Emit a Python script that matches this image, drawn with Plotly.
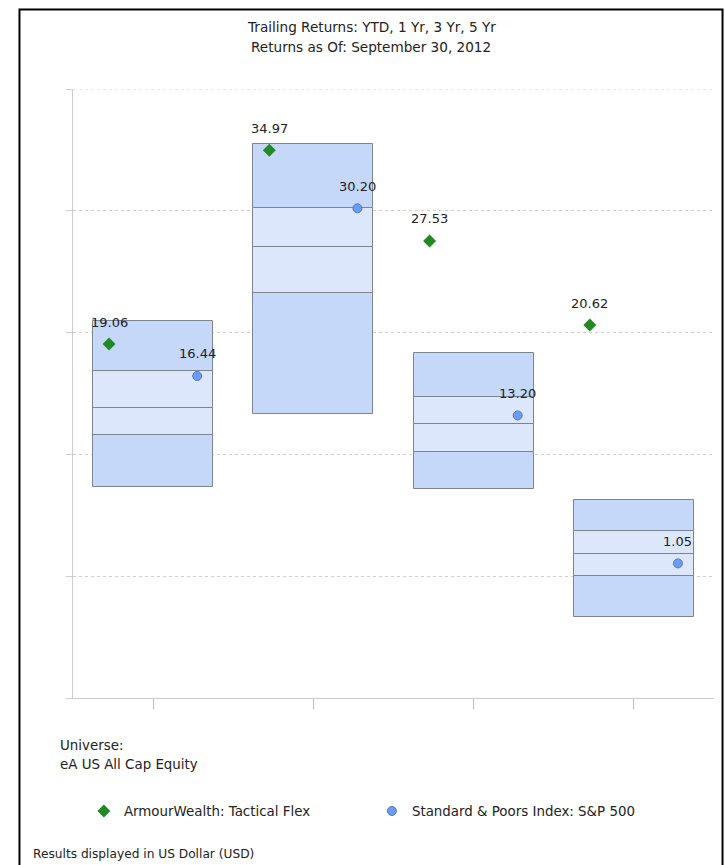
import plotly.graph_objects as go

# Trailing-return periods
categories = ["YTD", "1 Yr", "3 Yr", "5 Yr"]

# Universe percentile bands (5th, 25th, median, 75th, 95th)
p05 = [7.30, 13.28, 7.19, -3.34]
p25 = [11.61, 23.25, 10.16, 0.00]
p50 = [13.82, 27.05, 12.49, 1.80]
p75 = [16.87, 30.20, 14.70, 3.71]
p95 = [20.93, 35.49, 18.30, 6.29]

# Portfolio and benchmark returns
fund_name = "ArmourWealth: Tactical Flex"
fund_returns = [19.06, 34.97, 27.53, 20.62]
bench_name = "Standard & Poors Index: S&P 500"
bench_returns = [16.44, 30.20, 13.20, 1.05]

# y-axis grid values (no labels shown)
y_min, y_max = -10, 40
y_ticks = [-10, 0, 10, 20, 30, 40]

title_lines = ["Trailing Returns: YTD, 1 Yr, 3 Yr, 5 Yr",
               "Returns as Of: September 30, 2012"]
universe_lines = ["Universe:", "eA US All Cap Equity"]
currency_note = "Results displayed in US Dollar (USD)"

pos = list(range(len(categories)))
OUTER = "#c5d8fa"
INNER = "#dce7fc"
EDGE = "#7d8593"
FONT = "DejaVu Sans"
TXT = "#222222"

fig = go.Figure()

bands = [(p05, p25, OUTER), (p25, p50, INNER), (p50, p75, INNER), (p75, p95, OUTER)]
for lo, hi, col in bands:
    fig.add_trace(go.Bar(
        x=pos, base=lo, y=[h - l for l, h in zip(lo, hi)],
        width=0.75, marker=dict(color=col, line=dict(color=EDGE, width=1)),
        showlegend=False, hoverinfo="skip",
    ))

fund_x = [p - 0.275 for p in pos]
bench_x = [p + 0.275 for p in pos]

fig.add_trace(go.Scatter(
    x=fund_x, y=fund_returns, mode="markers", name=fund_name,
    marker=dict(symbol="diamond", size=10, color="#238a23"),
    text=categories, hovertemplate="%{text}: %{y:.2f}<extra></extra>",
))
fig.add_trace(go.Scatter(
    x=bench_x, y=bench_returns, mode="markers", name=bench_name,
    marker=dict(symbol="circle", size=9, color="#6b9bf2",
                line=dict(color="#4f78c9", width=1)),
    text=categories, hovertemplate="%{text}: %{y:.2f}<extra></extra>",
))

# value labels above each marker
for xs, vals in ((fund_x, fund_returns), (bench_x, bench_returns)):
    for xv, v in zip(xs, vals):
        fig.add_annotation(x=xv, y=v, text=f"{v:.2f}", showarrow=False,
                           yshift=22, font=dict(family=FONT, size=13, color=TXT))

# chart title (two centred lines)
for yy, line in zip((1.1018, 1.0690), title_lines):
    fig.add_annotation(xref="paper", yref="paper", x=0.465, y=yy,
                       xanchor="center", yanchor="middle", showarrow=False,
                       text=line, font=dict(family=FONT, size=13.6, color=TXT))

# universe caption
for yy, line in zip((-0.0788, -0.1100), universe_lines):
    fig.add_annotation(xref="paper", yref="paper", x=-0.024, y=yy,
                       xanchor="left", yanchor="middle", showarrow=False,
                       text=line, font=dict(family=FONT, size=13.4, color=TXT))

# currency note at the foot of the page
fig.add_annotation(xref="paper", yref="paper", x=-0.066, y=-0.2560,
                   xanchor="left", yanchor="middle", showarrow=False,
                   text=currency_note, font=dict(family=FONT, size=12.2, color=TXT))

# top grid line at the upper edge of the range
fig.add_shape(type="line", xref="paper", yref="y", x0=-0.009, x1=1.0, y0=y_max, y1=y_max,
              line=dict(color="#cfcfcf", width=1, dash="dot"), layer="below")

# outer page frame
fig.add_shape(type="rect", xref="paper", yref="paper",
              x0=-0.0835, x1=1.0133, y0=-0.5, y1=1.1305,
              line=dict(color="black", width=2), layer="above")

fig.update_layout(
    width=725, height=865,
    margin=dict(l=73, r=11, t=89, b=167),
    paper_bgcolor="white", plot_bgcolor="white",
    barmode="overlay", bargap=0,
    xaxis=dict(range=[-0.5, 3.5], tickvals=pos, ticktext=["", "", "", ""],
               showgrid=False, zeroline=False, showline=True, linecolor="#cccccc",
               ticks="outside", ticklen=10, tickcolor="#bbbbbb", fixedrange=True),
    yaxis=dict(range=[y_min, y_max], tickvals=y_ticks, showticklabels=False,
               showgrid=True, gridcolor="#cfcfcf", griddash="dot", zeroline=False,
               showline=True, linecolor="#cccccc",
               ticks="outside", ticklen=6, tickcolor="#cccccc", fixedrange=True),
    legend=dict(orientation="h", x=0.017, y=-0.186, xanchor="left", yanchor="middle",
                entrywidth=243, entrywidthmode="pixels",
                font=dict(family=FONT, size=13.4, color=TXT)),
    showlegend=True,
)

fig.write_html("out.html")
